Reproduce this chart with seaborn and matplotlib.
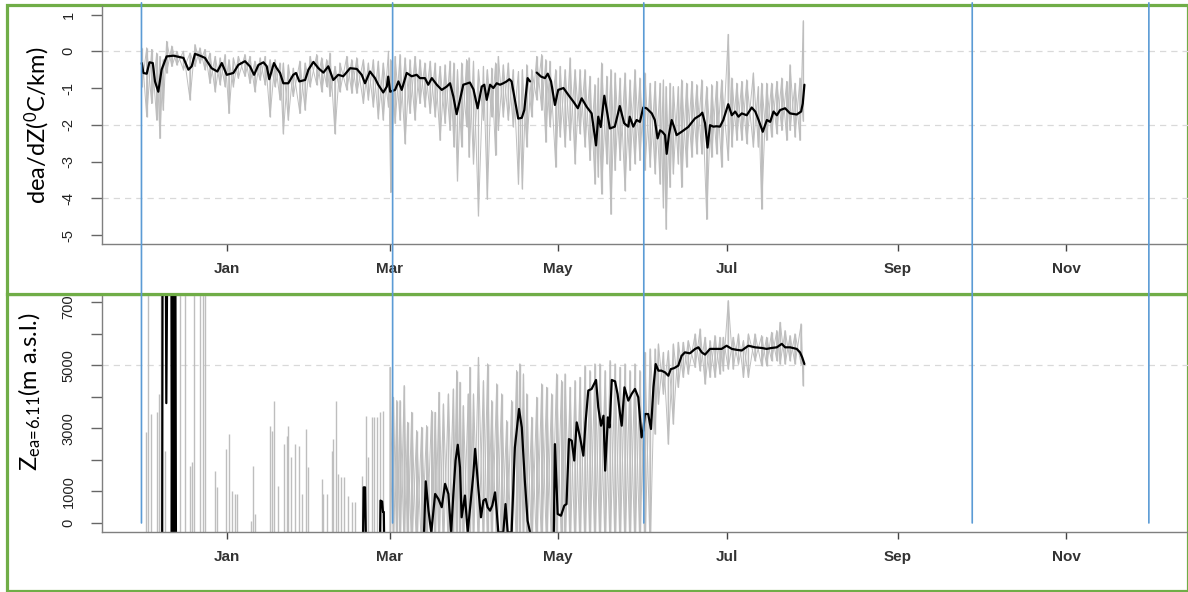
import numpy as np
import pandas as pd
import matplotlib
matplotlib.use("Agg")
import matplotlib.pyplot as plt
from matplotlib.patches import Rectangle, ConnectionPatch
import matplotlib.dates as mdates
import seaborn as sns

# ------------------------------------------------------------------
# Data (time axis: days counted from 1 Jan 2014)
# ------------------------------------------------------------------
# daily mean vapour-pressure lapse rate (degC/km); NaN = missing day
grad_day = [-30.9, -30.3, -29.1, -28.1, -26.9, -26.1, -24.9, -23.7, -21.9, -19.4,
            -15.8, -14.0, -12.8, -11.6, -9.8, -8.0, -5.6, -3.5, -1.9, -0.1,
            2.3, 4.1, 6.5, 8.3, 9.8, 11.4, 13.2, 14.4, 15.3, 17.0,
            18.0, 19.2, 20.4, 22.2, 24.0, 25.0, 26.2, 28.3, 29.5, 31.3,
            33.1, 34.9, 36.7, 38.5, 40.3, 42.1, 44.6, 47.0, 48.8, 50.0,
            51.8, 53.6, 54.8, 56.6, 57.9, 58.4, 59.1, 60.9, 62.1, 63.3,
            65.1, 66.9, 68.7, 69.9, 71.7, 72.9, 74.2, 76.0, 77.8, 79.6,
            80.8, 82.0, 83.2, 84.4, 85.6, 88.0, 89.3, 90.8, 92.3, 93.2,
            94.1, 95.3, 96.5, 97.7, 98.9, 100.1, 101.3, 102.3, 103.1, 104.3,
            105.5, 106.8, 107.7, 108.9, 109.8, 111.0, 112.2, 113.8, 115.2, 116.2,
            117.4, 118.8, 120.0, 121.9, 123.7, 125.5, 127.1, 128.5, 130.3, 132.1,
            133.7, 134.5, 135.4, 136.7, 137.9, 138.7, 140.5, 142.3, 143.9, 145.4,
            145.9, 147.2, 148.4, 149.6, 150.8, 152.0, 153.9, 155.0, 156.0, 156.9,
            157.7, 158.7, 159.3, 160.1, 161.1, 162.0, 162.9, 164.7, 167.1, 169.5,
            171.4, 172.2, 173.2, 174.1, 175.0, 176.2, 177.4, 178.6, 179.8, 181.6,
            182.9, 184.1, 185.3, 186.5, 188.3, 190.1, 191.4, 192.6, 194.1, 195.6,
            196.8, 198.0, 199.2, 200.4, 202.2, 204.0, 206.4, 208.0, 208.6, 209.2]
grad_daily = [-0.32, -0.59, -0.61, -0.30, -0.32, -0.82, -1.10, -0.50, -0.14, -0.12,
              -0.18, -0.50, -0.41, -0.07, -0.12, -0.18, -0.46, -0.55, -0.32, -0.64,
              -0.59, -0.37, -0.27, -0.41, -0.64, -0.37, -0.30, -0.41, -0.76, -0.32,
              -0.46, -0.59, -0.87, -0.87, -0.64, -0.59, -0.82, -0.78, -0.50, -0.29,
              -0.46, -0.58, -0.41, -0.78, -0.64, -0.68, -0.46, -0.48, -0.64, -0.87,
              -0.55, -0.73, -0.91, -1.12, -0.96, -0.69, -1.10, -1.05, -0.82, -1.05,
              -0.59, -0.68, -0.64, -0.73, -0.73, -0.91, -0.73, -0.91, -1.05, -0.96,
              -0.87, -1.23, -1.71, -1.32, -0.91, -0.85, -1.04, -1.55, -0.96, -0.91,
              -1.32, -0.91, -1.00, -0.87, -0.91, -0.87, -0.82, -0.76, -0.82, -1.32,
              -1.83, -1.81, -1.60, -0.73, -0.82, np.nan, -0.58, -0.69, -0.73, -0.61,
              -0.82, -1.46, -1.05, -1.00, -1.19, -1.37, -1.55, -1.28, -1.51, -1.69,
              -2.56, -1.78, -2.06, -1.21, -1.74, -2.10, -2.05, -1.49, -1.96, -2.05,
              -1.78, -2.05, -1.87, -1.92, -1.53, -1.55, -1.69, -1.87, -2.37, -2.15,
              -2.19, -2.28, -2.79, -2.28, -1.87, -2.06, -2.28, -2.19, -2.06, -1.83,
              -1.74, -1.67, -1.96, -2.62, -2.01, -2.05, -2.04, -2.05, -1.87, -1.44,
              -1.74, -1.64, -1.78, -1.69, -1.74, -1.53, -1.64, -1.87, -2.19, -1.87,
              -1.92, -1.64, -1.74, -1.60, -1.55, -1.69, -1.72, -1.64, -1.42, -0.91]

# hourly lapse rate, summarised as the high / low reached around each sample day
grad_hour_day = [-30.9, -29.1, -27.3, -25.5, -24.3, -23.1, -21.9, -20.0, -18.2, -15.8,
                 -13.4, -11.6, -9.8, -8.0, -6.2, -4.3, -2.5, -0.7, 0.7, 2.3,
                 4.1, 6.5, 8.3, 10.1, 12.0, 13.8, 15.6, 17.4, 19.2, 20.4,
                 22.2, 24.0, 26.4, 28.3, 30.1, 32.5, 34.3, 36.1, 37.3, 39.1,
                 40.9, 43.4, 45.2, 47.0, 49.4, 51.2, 53.0, 54.8, 56.6, 58.5,
                 59.3, 60.9, 62.7, 64.5, 66.3, 68.1, 69.9, 71.7, 73.6, 75.4,
                 77.2, 79.0, 80.8, 82.2, 83.5, 85.0, 86.8, 87.7, 89.3, 91.1,
                 92.9, 94.3, 95.9, 97.3, 98.3, 100.1, 101.9, 103.7, 105.6, 107.0,
                 108.6, 110.4, 112.2, 114.0, 115.5, 117.0, 119.1, 120.7, 122.5, 124.3,
                 126.1, 127.9, 129.7, 131.5, 133.3, 134.5, 135.7, 137.6, 139.1, 140.6,
                 142.4, 144.2, 146.0, 147.8, 149.6, 151.4, 153.3, 155.1, 156.9, 158.1,
                 159.1, 160.5, 161.7, 163.5, 164.7, 166.5, 168.4, 170.2, 172.0, 173.8,
                 175.6, 177.4, 179.2, 181.6, 182.9, 184.7, 186.5, 188.3, 190.7, 192.5,
                 193.7, 195.5, 197.3, 199.2, 201.0, 202.8, 204.0, 205.8, 207.6, 208.8]
grad_hour_hi = [0.09, 0.09, 0.05, -0.05, -0.14, -0.23, 0.27, 0.14, 0.00, 0.00,
                -0.05, 0.18, 0.09, 0.05, -0.05, -0.14, -0.18, -0.09, -0.23, -0.18,
                -0.14, -0.09, -0.14, -0.27, -0.18, -0.14, -0.23, -0.23, -0.32, -0.32,
                -0.37, -0.46, -0.27, -0.32, -0.14, -0.09, -0.18, -0.23, -0.05, -0.41,
                -0.32, -0.14, -0.23, -0.18, -0.23, -0.32, -0.23, -0.27, -0.32, 0.00,
                -0.23, -0.14, -0.09, -0.18, -0.23, -0.14, -0.23, -0.32, -0.27, -0.32,
                -0.41, -0.37, -0.27, -0.32, -0.50, -0.32, -0.23, -0.18, -0.27, -0.50,
                -0.41, -0.50, -0.46, -0.32, -0.14, -0.37, -0.32, -0.50, -0.55, -0.50,
                -0.37, -0.50, -0.14, -0.09, -0.23, -0.27, -0.50, -0.41, -0.50, -0.18,
                -0.50, -0.50, -0.50, -0.68, -0.91, -0.73, -0.32, -0.68, -0.50, -0.59,
                -0.73, -0.59, -0.78, -0.50, -0.73, -0.59, -0.87, -0.82, -0.87, -0.78,
                -0.96, -0.87, -0.96, -0.96, -0.78, -0.87, -0.82, -0.91, -0.78, -0.96,
                -0.91, -0.82, -0.78, 0.46, -0.73, -0.87, -0.82, -0.78, -0.59, -0.96,
                -0.87, -0.87, -0.87, -0.82, -0.73, -0.82, -0.37, -0.87, -0.73, 0.83]
grad_hour_lo = [-0.96, -1.78, -1.42, -1.87, -2.37, -1.60, -0.59, -0.41, -0.37, -0.50,
                -1.32, -0.41, -0.32, -0.50, -0.87, -1.10, -0.91, -0.96, -1.69, -0.96,
                -0.73, -0.68, -0.87, -1.10, -0.78, -0.91, -1.78, -0.96, -1.32, -2.24,
                -1.87, -1.23, -1.69, -1.60, -0.96, -0.91, -1.10, -0.96, -1.23, -2.24,
                -1.10, -1.05, -1.14, -1.14, -1.42, -1.32, -1.51, -1.83, -1.87, -1.51,
                -3.84, -1.96, -1.87, -2.51, -1.69, -1.87, -1.42, -1.51, -1.69, -1.78,
                -2.42, -1.96, -2.15, -2.60, -3.52, -2.60, -2.05, -2.88, -3.06, -4.47,
                -1.87, -4.02, -1.78, -2.83, -2.15, -1.78, -1.87, -2.05, -3.61, -3.74,
                -2.60, -1.78, -1.32, -1.60, -2.47, -2.05, -3.15, -2.33, -2.60, -2.42,
                -3.06, -2.24, -2.60, -2.97, -3.61, -3.42, -3.88, -3.06, -4.43, -3.24,
                -2.97, -3.79, -3.24, -3.06, -2.97, -3.24, -3.15, -3.33, -3.61, -4.25,
                -4.84, -3.70, -3.33, -3.06, -3.70, -3.15, -2.88, -2.79, -2.79, -4.57,
                -2.88, -2.79, -3.15, -2.97, -2.60, -2.42, -2.42, -2.51, -2.60, -2.60,
                -4.29, -2.42, -2.33, -2.24, -2.15, -2.42, -2.15, -2.33, -2.42, -1.90]

# daily mean altitude where ea = 6.11 hPa (m a.s.l.); NaN = missing day
zea_day = [-24.0, -23.5, -23.3, -22.3, -22.0, -21.4, -20.2, -20.0, -19.6, -19.2,
           -18.8, -18.5, -18.0,
           49.0, 49.2, 49.5, 50.0, 50.4, 50.8,
           55.2, 55.4, 55.6, 56.2, 56.5, 56.8, 57.0, 57.4,
           70.8, 71.1, 72.0, 73.0, 74.0, 75.4, 76.6, 77.8, 79.0, 80.2,
           81.2, 82.0, 82.8, 83.6, 84.4, 85.0, 86.2, 87.2, 89.2, 89.9,
           91.1, 92.0, 92.9, 93.7, 94.4, 95.3, 96.1, 97.1, 97.7, 98.3,
           100.1, 100.9, 101.7, 103.1, 104.3, 105.8, 106.8, 107.9, 108.9, 109.8,
           110.5,
           118.2, 118.4, 118.8, 119.8, 121.0, 122.2, 123.0, 123.9, 124.9, 125.8,
           126.7, 127.9, 129.1, 129.9, 130.9, 132.1, 133.7, 134.5, 135.5, 136.4,
           137.0, 138.0, 138.6, 139.4, 140.6, 141.5, 142.4, 143.0, 144.0, 145.4,
           146.6, 147.8, 149.0, 150.2, 150.8, 151.4, 152.6, 153.6, 154.5, 155.3,
           156.3, 157.4, 158.7, 159.9, 160.8, 162.0, 163.5, 164.7, 165.9, 167.7,
           169.6, 170.8, 172.0, 173.2, 175.0, 176.8, 179.2, 181.0, 182.9, 184.7,
           186.5, 188.9, 191.3, 193.7, 195.5, 197.3, 199.2, 201.0, 202.2, 204.0,
           206.4, 207.6, 208.4, 209.2]
zea_daily = [np.nan, -1000, 12000, 12000, 3800, 12000, 12000, -1000, 12000, -1000,
             12000, -1000, np.nan,
             np.nan, -1000, 1130, 1130, -1000, np.nan,
             np.nan, -1000, 710, 680, 350, 350, -1000, np.nan,
             np.nan, -1000, 1320, 390, -300, 920, 760, 500, 1240, 920,
             -300, 920, 1980, 2480, 1765, 180, 870, -300, 1500, 2350,
             1050, 180, 710, 760, 500, 390, 550, 970, 390, -300,
             -300, 600, -300, -300, 2400, 3615, 3030, 1340, 70, -300,
             np.nan,
             np.nan, -300, 2500, 285, 230, 550, 600, 2660, 2610, 1980,
             3190, 2715, 2135, 3190, 4200, 4250, 4535, 3670, 3085, 3400,
             1660, 3350, 3030, 4535, 4490, 4090, 3455, 3085, 4300, 3880,
             4090, 4250, 3985, 2715, 2930, 3455, 3455, 2980, 4300, 5040,
             4830, 4830, 4775, 4670, 4880, 4910, 4990, 5300, 5410, 5380,
             5520, 5570, 5410, 5340, 5520, 5520, 5520, 5620, 5520, 5490,
             5470, 5620, 5570, 5550, 5520, 5550, 5570, 5680, 5570, 5570,
             5520, 5410, 5250, 5040]

# hourly altitude, high / low reached around each sample day
zea_hour_day = [-29.3, -28.5, -27.7, -25.5, -24.6, -23.9, -22.5, -17.0, -15.2, -13.4,
                -12.6, -11.8, -9.8, -8.6, -8.0, -4.3, -3.5, -0.5, 0.7, 1.7,
                2.9, 3.5, 8.7, 9.5, 10.1, 15.6, 16.2, 17.1, 18.6, 20.6,
                21.6, 22.2, 23.2, 24.6, 26.1, 27.1, 28.5, 29.5, 34.3, 34.9,
                36.4, 38.0, 38.5, 39.4, 40.3, 41.3, 42.4, 43.9, 45.2, 46.4,
                48.8, 50.4, 51.2, 52.4, 53.4, 54.2, 55.4, 56.6, 59.1, 60.3,
                61.5, 62.7, 64.2, 65.4, 66.9, 68.7, 70.5, 72.3, 74.1, 75.4,
                76.8, 78.4, 80.2, 82.0, 83.2, 84.4, 85.6, 87.4, 88.0, 89.3,
                91.1, 92.9, 94.4, 95.9, 97.7, 99.5, 101.3, 103.1, 104.9, 106.1,
                107.4, 108.6, 110.4, 112.2, 114.0, 115.8, 117.6, 119.4, 121.2, 122.5,
                124.3, 126.1, 127.9, 129.7, 131.5, 133.3, 135.1, 137.0, 138.8, 140.6,
                142.4, 144.2, 146.0, 147.8, 149.6, 151.4, 153.3, 155.1, 156.3, 158.1,
                159.9, 161.7, 163.5, 165.3, 167.1, 169.6, 171.4, 173.2, 175.0, 176.8,
                178.6, 179.8, 181.6, 183.4, 185.3, 187.1, 188.9, 191.3, 193.7, 195.5,
                197.3, 199.2, 200.4, 202.2, 204.0, 205.8, 208.0, 208.8]
zea_hour_hi = [2875, 9000, 3456, 3509, 4091, 9000, 2294, 9000, 9000, 1818,
               1924, 9000, 9000, 9000, 9000, 1660, 1131, 2347, 2822, 1025,
               920, 920, 74, 1818, 285, 3086, 2928, 3879, 1184, 2505,
               2769, 3086, 2082, 2505, 2452, 920, 2981, 1765, 1395, 920,
               920, 2294, 2664, 3879, 1554, 1448, 1448, 867, 655, 655,
               1501, 3404, 2082, 3351, 3351, 3351, 3509, 3562, 4936, 3985,
               3879, 3879, 4355, 3192, 3509, 2928, 3034, 3086, 3562, 3509,
               4143, 3774, 4091, 4249, 4830, 4461, 3721, 4091, 4936, 4091,
               5253, 4513, 5042, 3879, 4408, 4091, 3245, 3879, 4830, 5042,
               4725, 4091, 3351, 3985, 4408, 4302, 4091, 4725, 4513, 4725,
               4302, 4513, 4619, 4989, 4830, 5042, 5042, 4830, 5148, 5042,
               4936, 5042, 4830, 5042, 4830, 5412, 5518, 5518, 5676, 5412,
               5465, 5676, 5729, 5729, 5782, 5993, 6152, 5888, 5782, 5940,
               5888, 5888, 7050, 5888, 5993, 5782, 5993, 5993, 5940, 5888,
               6046, 6099, 6363, 6099, 5940, 5993, 6310, 5042]
zea_hour_lo = [-1000] * 117 + [2822, 3774, 4091,
               2505, 3139, 4302, 4619, 4725, 4936, 4830, 4408, 4619, 4619,
               4725, 4830, 4883, 4883, 5042, 4619, 4619, 5148, 4989, 4989,
               5148, 5148, 5042, 5042, 5148, 5042, 5042, 4355]

season_edges = ["2013-12-01", "2014-03-02", "2014-06-01", "2014-09-28", "2014-12-01"]
month_ticks = [1, 3, 5, 7, 9, 11]
grad_ticks = [-5, -4, -3, -2, -1, 0, 1]
grad_ref_levels = [0, -2, -4]
zea_ticks = [0, 1000, 2000, 3000, 4000, 5000, 6000, 7000]
zea_labelled = [0, 1000, 3000, 5000, 7000]
zea_ref_levels = [5000]

ORIGIN = pd.Timestamp("2014-01-01")


def to_dates(days):
    return ORIGIN + pd.to_timedelta(np.asarray(days, dtype=float), unit="D")


# ------------------------------------------------------------------
# Style
# ------------------------------------------------------------------
sns.set_theme(style="white")
plt.rcParams["font.family"] = ["Liberation Sans", "DejaVu Sans"]
plt.rcParams["mathtext.default"] = "regular"

GRAY = "#BEBEBE"
SPINE = "#7F7F7F"
GREEN = "#70AD47"
BLUE = "#5B9BD5"
NARROW = ["Liberation Sans Narrow", "Liberation Sans", "DejaVu Sans"]
LABEL_FONT = ["Lato", "DejaVu Sans"]

W, H = 1188, 592
fig = plt.figure(figsize=(W / 100, H / 100), dpi=100)
fig.patch.set_facecolor("white")

x_lo, x_hi = -45.3, 349.6          # axis range in days from 1 Jan
px_per_day = 2.76
ax_w = (x_hi - x_lo) * px_per_day

ax1 = fig.add_axes([102 / W, 1 - 243.9 / H, ax_w / W, (243.9 - 5.7) / H])
ax2 = fig.add_axes([102 / W, 1 - 531.8 / H, ax_w / W, (531.8 - 293.4) / H])
ax2.set_zorder(0)
ax1.set_zorder(2)

# panel frames; the upper frame is white so it hides anything of the lower panel above it
fig.add_artist(Rectangle((7 / W, 1 - 591 / H), (1187.5 - 7) / W, (591 - 294) / H,
                         transform=fig.transFigure, facecolor="white",
                         edgecolor=GREEN, lw=2.3, zorder=-1))
fig.add_artist(Rectangle((7 / W, 1 - 294 / H), (1187.5 - 7) / W, (294 - 5) / H,
                         transform=fig.transFigure, facecolor="white",
                         edgecolor=GREEN, lw=2.3, zorder=1))


def hourly_trace(days, hi, lo):
    """Two interleaved up/down traces through the high and low of each sample,
    giving the dense criss-cross look of an hourly series."""
    d = np.repeat(np.asarray(days, float), 2)
    up = np.column_stack([hi, lo]).ravel()
    down = np.column_stack([lo, hi]).ravel()
    return to_dates(d), up, down


def daily_frame(days, vals):
    df = pd.DataFrame({"date": to_dates(days), "v": np.asarray(vals, float)})
    df["seg"] = df["v"].isna().cumsum()
    return df.dropna()


# ---------------- upper panel: lapse rate ----------------
for lev in grad_ref_levels:
    ax1.axhline(lev, color="#D9D9D9", lw=0.9, ls=(0, (5, 4)), zorder=0)

gx, gup, gdown = hourly_trace(grad_hour_day, grad_hour_hi, grad_hour_lo)
sns.lineplot(x=gx, y=gup, sort=False, estimator=None, color=GRAY, lw=0.7, ax=ax1)
sns.lineplot(x=gx, y=gdown, sort=False, estimator=None, color=GRAY, lw=0.7, ax=ax1)
ax1.vlines(to_dates(grad_hour_day), grad_hour_lo, grad_hour_hi, color=GRAY, lw=0.9)
sns.lineplot(data=daily_frame(grad_day, grad_daily), x="date", y="v", units="seg",
             estimator=None, sort=False, color="black", lw=1.6, ax=ax1)
ax1.set_ylim(-5.24, 1.24)
ax1.set_yticks(grad_ticks)
ax1.set_yticklabels([str(t) for t in grad_ticks], rotation=90, va="center",
                    family=NARROW, fontsize=10.5, color="#222222")
ax1.set_ylabel("dea/dZ($^{0}$C/km)", family=LABEL_FONT, fontsize=17, color="black")
ax1.yaxis.set_label_coords(-0.046, 0.5)

# ---------------- lower panel: altitude of ea = 6.11 ----------------
for lev in zea_ref_levels:
    ax2.axhline(lev, color="#D9D9D9", lw=0.9, ls=(0, (5, 4)), zorder=0)

dense = np.asarray(zea_hour_day) >= 59
zx, zup, zdown = hourly_trace(np.asarray(zea_hour_day)[dense],
                              np.asarray(zea_hour_hi)[dense],
                              np.asarray(zea_hour_lo)[dense])
sns.lineplot(x=zx, y=zup, sort=False, estimator=None, color=GRAY, lw=0.7, ax=ax2)
sns.lineplot(x=zx, y=zdown, sort=False, estimator=None, color=GRAY, lw=0.7, ax=ax2)
ax2.vlines(to_dates(zea_hour_day), zea_hour_lo, zea_hour_hi, color=GRAY, lw=1.0)
sns.lineplot(data=daily_frame(zea_day, zea_daily), x="date", y="v", units="seg",
             estimator=None, sort=False, color="black", lw=1.6, ax=ax2)
ax2.set_ylim(-280, 7280)
ax2.set_yticks(zea_ticks)
ax2.set_yticklabels([str(t) if t in zea_labelled else "" for t in zea_ticks],
                    rotation=90, va="center", family=NARROW, fontsize=10.5, color="#222222")
ax2.set_ylabel(r"Z$_{ea\!=\!6.11}$(m a.s.l.)", family=LABEL_FONT, fontsize=17,
               color="black")
ax2.yaxis.set_label_coords(-0.054, 0.587)

# ---------------- shared axis styling ----------------
tick_dates = [pd.Timestamp(2014, m, 1) for m in month_ticks]
for ax in (ax1, ax2):
    ax.set_facecolor("none")
    ax.set_xlim(to_dates([x_lo])[0], to_dates([x_hi])[0])
    ax.set_xticks(tick_dates)
    ax.set_xticklabels([d.strftime("%b") for d in tick_dates], fontweight="bold",
                       fontsize=11, color="#333333")
    ax.set_xlabel("")
    for side in ("top", "right"):
        ax.spines[side].set_visible(False)
    for side in ("left", "bottom"):
        ax.spines[side].set_color(SPINE)
        ax.spines[side].set_linewidth(1.0)
    ax.tick_params(axis="x", length=5, width=1, color="#444444", pad=8, bottom=True)
    ax.tick_params(axis="y", length=8, width=1, color="#666666", pad=11, left=True)
    ax.grid(False)

# season boundaries run from the top of the upper panel down to 0 m in the lower one
for edge in season_edges:
    xd = mdates.date2num(pd.Timestamp(edge))
    con = ConnectionPatch(xyA=(xd, 1.012), coordsA=ax1.get_xaxis_transform(),
                          xyB=(xd, 0), coordsB=ax2.transData,
                          color=BLUE, lw=1.2, zorder=5)
    fig.add_artist(con)

fig.savefig("out.png", dpi=100, facecolor="white")
